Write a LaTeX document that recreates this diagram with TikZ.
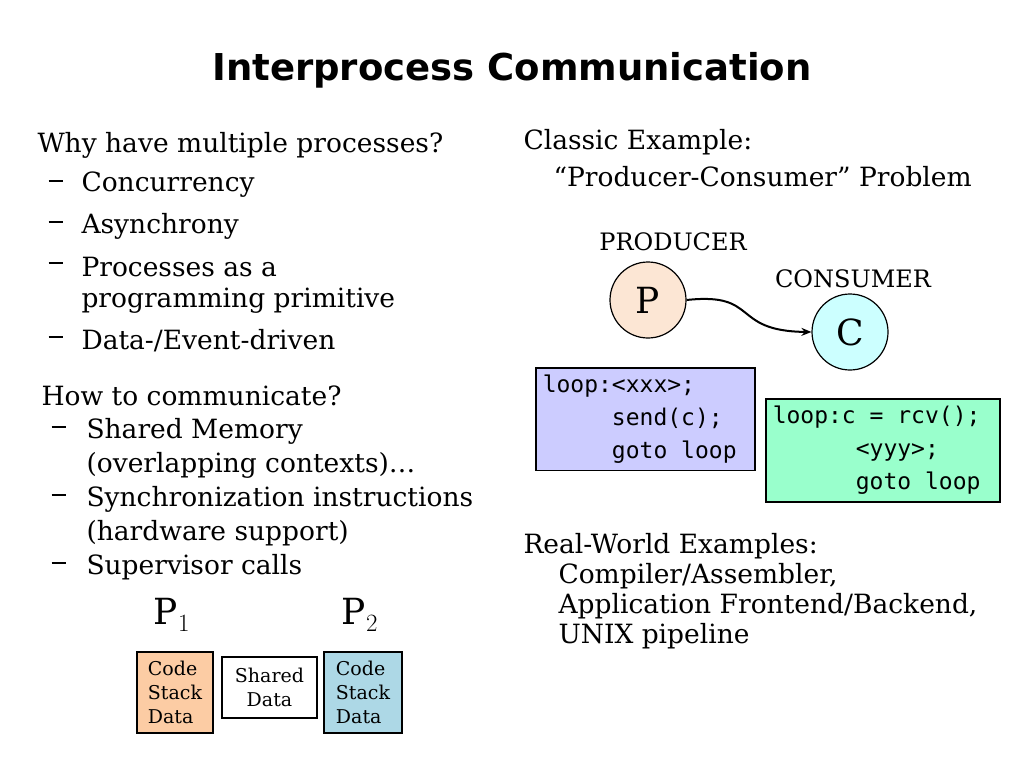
\documentclass[tikz,border=0pt]{standalone}
\usepackage{fontspec}
\setmainfont{DejaVu Serif}
\newfontfamily\titlefont{DejaVu Sans}
\newfontfamily\codefont{DejaVu Sans Mono}
\usetikzlibrary{arrows.meta, positioning, calc}
\newcommand{\itemdash}{\rule[0.3em]{14pt}{1.6pt}}
\newcommand{\csp}{\hphantom{x}}

\begin{document}
\begin{tikzpicture}[
    x=1pt, y=-1pt,
    >={Stealth[length=10pt,width=8pt]},
    line width=1pt,
    txt/.style={anchor=west, inner sep=0pt, font=\fontsize{26.5}{30}\selectfont},
    proc/.style={circle, draw, line width=1.2pt, minimum size=76pt,
                 font=\fontsize{36}{36}\selectfont},
    code/.style={draw, line width=1.5pt, anchor=north west, align=left,
                 inner sep=7pt, font=\codefont\fontsize{23}{33}\selectfont},
    seg/.style={draw, line width=1.2pt, align=center, inner sep=2pt,
                font=\fontsize{19}{24}\selectfont}
]
\useasboundingbox (0,0) rectangle (1024,768);

% Title
\node[font=\titlefont\bfseries\fontsize{37}{42}\selectfont] (title) at (512,70)
   {Interprocess Communication};

% Left column: why
\node[txt] (why) at (37,145) {Why have multiple processes?};
\foreach \y/\t in {185/Concurrency, 226/Asynchrony, 267/Processes as a,
                   301/programming primitive, 341/{Data-/Event-driven}} {
  \node[txt] at (81,\y) {\t};
}
\foreach \y in {185,226,267,341} {
  \node[txt] at (48,\y) {\itemdash};
}

% Left column: how
\node[txt] (how) at (41,396) {How to communicate?};
\foreach \y/\t in {431/Shared Memory, 465/(overlapping contexts)\dots,
                   499/Synchronization instructions, 533/(hardware support),
                   567/Supervisor calls} {
  \node[txt] at (86,\y) {\t};
}
\foreach \y in {431,499,567} {
  \node[txt] at (51,\y) {\itemdash};
}

% Memory segments
\node[font=\fontsize{36}{36}\selectfont] (p1) at (172,615) {P$_1$};
\node[font=\fontsize{36}{36}\selectfont] (p2) at (360,615) {P$_2$};
\node[seg, fill={rgb,255:red,252;green,204;blue,164},
      minimum width=76pt, minimum height=81pt, align=left]
   (seg1) at (175,692.5) {Code\\Stack\\Data};
\node[seg, fill=white, minimum width=95pt, minimum height=61pt]
   (shared) at (269.5,687.5) {Shared\\Data};
\node[seg, fill={rgb,255:red,173;green,216;blue,230},
      minimum width=78pt, minimum height=81pt, align=left]
   (seg2) at (363,692.5) {Code\\Stack\\Data};

% Right column
\node[txt] (classic) at (523,142) {Classic Example:};
\node[txt] (problem) at (553,177) {``Producer-Consumer'' Problem};

\node[font=\fontsize{24}{26}\selectfont] (prodlbl) at (673,242) {PRODUCER};
\node[font=\fontsize{24}{26}\selectfont] (conslbl) at (853,279) {CONSUMER};
\node[proc, fill={rgb,255:red,252;green,230;blue,212}] (P) at (648,300) {P};
\node[proc, fill={rgb,255:red,204;green,255;blue,255}] (C) at (850,332) {C};
\draw[->, line width=2pt] (P.east) .. controls (760,292) and (730,331) .. (C.west);

\node[code, fill={rgb,255:red,204;green,204;blue,255},
      text width=205pt, minimum height=101pt] (prodcode) at (535,367)
   {loop:<xxx>;\\\phantom{loop:}send(c);\\\phantom{loop:}goto\csp{}loop};
\node[code, fill={rgb,255:red,153;green,255;blue,204},
      text width=220pt, minimum height=103pt] (conscode) at (765,398)
   {loop:c\csp{}=\csp{}rcv();\\\phantom{loop:c}<yyy>;\\\phantom{loop:c}goto\csp{}loop};

\node[txt] (real) at (523,546) {Real-World Examples:};
\foreach \y/\t in {576/{Compiler/Assembler,}, 606/{Application Frontend/Backend,},
                   636/UNIX pipeline} {
  \node[txt] at (558,\y) {\t};
}
\end{tikzpicture}
\end{document}
